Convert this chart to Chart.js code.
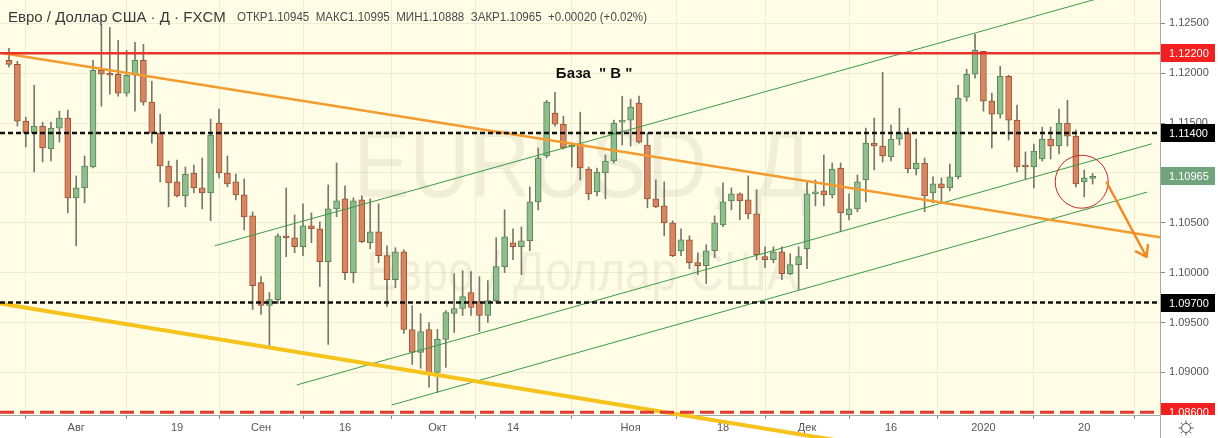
<!DOCTYPE html>
<html lang="ru">
<head>
<meta charset="UTF-8">
<title>EURUSD, Д</title>
<script src="https://cdn.jsdelivr.net/npm/chart.js@4.4.1/dist/chart.umd.min.js"></script>
<style>
  html, body { margin: 0; padding: 0; background: #fff; }
  .wrap { width: 1218px; height: 438px; }
</style>
</head>
<body>
<div class="wrap"><canvas id="chart" width="1218" height="438"></canvas></div>
<script>
// daily candles 22.07.2019 - 21.01.2020 (index = trading day)
const open = [1.1213,1.1209,1.1152,1.1140,1.1147,1.1124,1.1145,1.1155,1.1075,1.1085,
  1.1106,1.1203,1.1199,1.1199,1.1180,1.1198,1.1213,1.1171,1.1140,1.1107,
  1.1091,1.1077,1.1100,1.1085,1.1080,1.1150,1.1100,1.1091,1.1078,1.1057,
  1.0990,1.0967,1.0973,1.1036,1.1035,1.1026,1.1047,1.1044,1.1011,1.1064,
  1.1074,1.1000,1.1073,1.1030,1.1041,1.1017,1.0993,1.1021,1.0943,1.0920,
  1.0943,1.0900,1.0933,1.0959,1.0964,1.0980,1.0971,1.0957,1.0972,1.1006,
  1.1030,1.1026,1.1032,1.1071,1.1117,1.1160,1.1149,1.1126,1.1129,1.1104,
  1.1081,1.1100,1.1112,1.1151,1.1153,1.1170,1.1128,1.1074,1.1067,1.1050,
  1.1022,1.1033,1.1010,1.1007,1.1022,1.1048,1.1072,1.1079,1.1073,1.1059,
  1.1016,1.1013,1.1021,1.0999,1.1008,1.1024,1.1079,1.1082,1.1078,1.1105,
  1.1058,1.1064,1.1093,1.1130,1.1127,1.1116,1.1134,1.1140,1.1104,1.1110,
  1.1080,1.1089,1.1085,1.1096,1.1176,1.1199,1.1222,1.1172,1.1159,1.1197,
  1.1153,1.1107,1.1106,1.1114,1.1134,1.1127,1.1150,1.1137,1.1091,1.10945];
const high = [1.1225,1.1212,1.1156,1.1188,1.1151,1.1151,1.1162,1.1163,1.1097,1.1117,
  1.1213,1.1249,1.1246,1.1233,1.1223,1.1231,1.1229,1.1192,1.1159,1.1112,
  1.1113,1.1106,1.1108,1.1115,1.1154,1.1164,1.1117,1.1099,1.1094,1.1061,
  1.0996,1.0980,1.1039,1.1085,1.1058,1.1069,1.1060,1.1051,1.1088,1.1110,
  1.1087,1.1075,1.1077,1.1074,1.1069,1.1027,1.1025,1.1023,1.0967,1.0959,
  1.0950,1.0943,1.0962,1.0999,1.1002,1.1001,1.0996,1.0992,1.1035,1.1063,
  1.1044,1.1046,1.1086,1.1125,1.1173,1.1181,1.1157,1.1130,1.1161,1.1106,
  1.1105,1.1118,1.1153,1.1177,1.1174,1.1177,1.1140,1.1093,1.1091,1.1052,
  1.1044,1.1037,1.1020,1.1028,1.1057,1.1090,1.1085,1.1080,1.1097,1.1083,
  1.1026,1.1026,1.1026,1.1019,1.1026,1.1091,1.1093,1.1118,1.1110,1.1110,
  1.1079,1.1098,1.1145,1.1155,1.1201,1.1148,1.1165,1.1145,1.1134,1.1115,
  1.1096,1.1095,1.1109,1.1188,1.1204,1.1239,1.1222,1.1180,1.1207,1.1198,
  1.1168,1.1121,1.1129,1.1146,1.1146,1.1164,1.1173,1.1143,1.1103,1.10995];
const low = [1.1206,1.1147,1.1126,1.1101,1.1111,1.1112,1.1131,1.1060,1.1027,1.1070,
  1.1105,1.1167,1.1179,1.1177,1.1177,1.1162,1.1168,1.1130,1.1091,1.1066,
  1.1076,1.1066,1.1080,1.1064,1.1052,1.1095,1.1086,1.1073,1.1043,1.0963,
  1.0958,1.0927,1.0969,1.1016,1.1020,1.1017,1.1030,1.0986,1.0928,1.1056,
  1.0993,1.0990,1.1030,1.1024,1.1010,1.0966,1.0985,1.0939,1.0908,1.0904,
  1.0885,1.0880,1.0905,1.0940,1.0957,1.0957,1.0941,1.0950,1.0970,1.1000,
  1.1013,1.0998,1.1022,1.1063,1.1115,1.1147,1.1124,1.1106,1.1093,1.1073,
  1.1077,1.1074,1.1110,1.1128,1.1127,1.1130,1.1065,1.1065,1.1037,1.1016,
  1.1017,1.1004,1.0998,1.0989,1.1015,1.1046,1.1063,1.1053,1.1054,1.1013,
  1.1005,1.1010,1.0993,1.0998,1.0983,1.1004,1.1067,1.1067,1.1075,1.1041,
  1.1053,1.1061,1.1071,1.1103,1.1111,1.1112,1.1128,1.1100,1.1098,1.1061,
  1.1070,1.1070,1.1082,1.1094,1.1172,1.1195,1.1162,1.1125,1.1155,1.1133,
  1.1101,1.1094,1.1085,1.1112,1.1114,1.1119,1.1127,1.1086,1.1076,1.10888];
const close = [1.1209,1.1152,1.1140,1.1147,1.1125,1.1145,1.1155,1.1075,1.1085,1.1107,
  1.1203,1.1199,1.1198,1.1180,1.1198,1.1213,1.1171,1.1140,1.1107,1.1090,
  1.1077,1.1099,1.1085,1.1080,1.1138,1.1100,1.1089,1.1078,1.1056,1.0987,
  1.0967,1.0973,1.1037,1.1035,1.1026,1.1047,1.1044,1.1011,1.1064,1.1072,
  1.1000,1.1072,1.1031,1.1041,1.1017,1.0993,1.1021,1.0943,1.0920,1.0941,
  1.0898,1.0933,1.0960,1.0964,1.0976,1.0965,1.0957,1.0972,1.1006,1.1036,
  1.1026,1.1032,1.1071,1.1115,1.1171,1.1149,1.1125,1.1128,1.1105,1.1079,
  1.1101,1.1112,1.1150,1.1153,1.1166,1.1131,1.1074,1.1066,1.1050,1.1017,
  1.1033,1.1010,1.1007,1.1022,1.1050,1.1071,1.1079,1.1072,1.1059,1.1018,
  1.1013,1.1021,1.0999,1.1008,1.1016,1.1079,1.1081,1.1078,1.1104,1.1060,
  1.1064,1.1091,1.1130,1.1127,1.1117,1.1134,1.1140,1.1104,1.1110,1.1077,
  1.1089,1.1085,1.1096,1.1175,1.1199,1.1223,1.1172,1.1159,1.1197,1.1153,
  1.1106,1.1106,1.1122,1.1134,1.1127,1.1150,1.1137,1.1089,1.1095,1.10965];

const tickIdx = [8, 20, 30, 40, 51, 60, 74, 85, 95, 105, 116, 128];
const tickText = ['Авг', '19', 'Сен', '16', 'Окт', '14', 'Ноя', '18', 'Дек', '16', '2020', '20'];
const priceTicks = [1.090, 1.095, 1.100, 1.105, 1.110, 1.115, 1.120, 1.125];

const redLevels = [1.1220, 1.0860];
const blackLevels = [1.1140, 1.0970];
const lastPrice = 1.10965;

// drawn lines: [index1, price1, index2, price2]
const orangeLine = [-0.68, 1.1220, 137.02, 1.10356];
const goldLine = [-1.07, 1.0969, 105, 1.08229];
const greenUpper = [24.52, 1.1027, 137, 1.12923];
const greenMid = [34.25, 1.08873, 136.04, 1.11292];
const greenLow = [45.56, 1.08672, 135.48, 1.10808];
const circleMark = [127.7, 1.10912];
const arrowMark = [130.68, 1.10904, 135.42, 1.10157];
const baseLabel = [65.1, 1.11992];

const X_MIN = -1.071, X_MAX = 137.02;
const Y_MIN = 1.08572, Y_MAX = 1.12735;

const upFill = '#8fbd8b', upLine = '#55835a';
const dnFill = '#d98560', dnLine = '#955437';

const idx = open.map((_, i) => i);
const seg = (s) => [{x: s[0], y: s[1]}, {x: s[2], y: s[3]}];
const flat = (p) => [{x: X_MIN, y: p}, {x: X_MAX, y: p}];
const lineDs = (data, color, width, extra) => Object.assign({
  type: 'line', data, borderColor: color, borderWidth: width,
  pointRadius: 0, tension: 0, order: 1
}, extra || {});

const decor = {
  id: 'decor',
  beforeDraw(chart) {
    const {ctx, chartArea: a} = chart;
    ctx.save();
    ctx.fillStyle = '#ffffff';
    ctx.fillRect(0, 0, chart.width, chart.height);
    ctx.fillStyle = '#fffde6';
    ctx.fillRect(a.left, a.top, a.right - a.left, a.bottom - a.top);
    ctx.restore();
  },
  beforeDatasetsDraw(chart) {
    const {ctx} = chart;
    ctx.save();
    ctx.fillStyle = 'rgba(80, 80, 50, 0.085)';
    ctx.textAlign = 'center';
    ctx.textBaseline = 'alphabetic';
    ctx.font = '96px "Liberation Sans", sans-serif';
    ctx.fillText('EURUSD, Д', 582, 197, 457);
    ctx.font = '56px "Liberation Sans", sans-serif';
    ctx.fillText('Евро / Доллар США', 582, 290, 432);
    ctx.restore();
  },
  afterDatasetsDraw(chart) {
    const {ctx, scales: {x, y}} = chart;
    ctx.save();
    // circle
    ctx.strokeStyle = '#c0282b';
    ctx.lineWidth = 1;
    ctx.beginPath();
    ctx.arc(x.getPixelForValue(circleMark[0]), y.getPixelForValue(circleMark[1]), 26.5, 0, Math.PI * 2);
    ctx.stroke();
    // arrow
    const x1 = x.getPixelForValue(arrowMark[0]), y1 = y.getPixelForValue(arrowMark[1]);
    const x2 = x.getPixelForValue(arrowMark[2]), y2 = y.getPixelForValue(arrowMark[3]);
    const ang = Math.atan2(y2 - y1, x2 - x1);
    ctx.strokeStyle = '#f28a24';
    ctx.lineWidth = 2.5;
    ctx.lineCap = 'round';
    ctx.beginPath();
    ctx.moveTo(x1, y1);
    ctx.lineTo(x2, y2);
    for (const d of [-0.6, 0.6]) {
      ctx.moveTo(x2, y2);
      ctx.lineTo(x2 - 12 * Math.cos(ang + d), y2 - 12 * Math.sin(ang + d));
    }
    ctx.stroke();
    ctx.restore();
  },
  afterDraw(chart) {
    const {ctx, chartArea: a, scales: {x, y}} = chart;
    ctx.save();
    // title
    ctx.textBaseline = 'middle';
    ctx.textAlign = 'left';
    ctx.fillStyle = '#3a3a3a';
    ctx.font = '15px "Liberation Sans", sans-serif';
    ctx.fillText('Евро / Доллар США · Д · FXCM', 8, 18, 220);
    ctx.fillStyle = '#4a4a4a';
    ctx.font = '12px "Liberation Sans", sans-serif';
    ctx.fillText('ОТКР1.10945  МАКС1.10995  МИН1.10888  ЗАКР1.10965  +0.00020 (+0.02%)', 237, 18, 410);
    // note
    ctx.fillStyle = '#111';
    ctx.font = 'bold 15px "Liberation Sans", sans-serif';
    ctx.fillText('База  " В "', x.getPixelForValue(baseLabel[0]), y.getPixelForValue(baseLabel[1]));

    // price labels on the axis
    ctx.beginPath();
    ctx.rect(a.right, 0, chart.width - a.right, a.bottom);
    ctx.clip();
    const tags = [
      [redLevels[0], '#f41f1f'], [blackLevels[0], '#000'], [lastPrice, '#6fa47c'],
      [blackLevels[1], '#000'], [redLevels[1], '#f41f1f']
    ];
    ctx.font = '11px "Liberation Sans", sans-serif';
    for (const [p, c] of tags) {
      const py = Math.round(y.getPixelForValue(p));
      ctx.fillStyle = c;
      ctx.fillRect(a.right + 1, py - 9, 54, 18);
      ctx.fillStyle = '#fff';
      ctx.fillText(p.toFixed(5), a.right + 9, py + 1);
    }
    ctx.restore();

    ctx.save();
    // axis line down to the corner
    ctx.strokeStyle = '#a8a8a8';
    ctx.lineWidth = 1;
    ctx.beginPath();
    ctx.moveTo(a.right + 0.5, a.bottom);
    ctx.lineTo(a.right + 0.5, chart.height);
    ctx.stroke();
    // settings icon
    const gx = 1186, gy = 428;
    ctx.strokeStyle = '#555';
    ctx.beginPath();
    ctx.arc(gx, gy, 4.5, 0, Math.PI * 2);
    for (let k = 0; k < 8; k++) {
      const t = k * Math.PI / 4;
      ctx.moveTo(gx + 5 * Math.cos(t), gy + 5 * Math.sin(t));
      ctx.lineTo(gx + 7.5 * Math.cos(t), gy + 7.5 * Math.sin(t));
    }
    ctx.stroke();
    ctx.restore();
  }
};

new Chart(document.getElementById('chart'), {
  type: 'bar',
  data: {
    datasets: [
      lineDs(flat(redLevels[0]), '#e8322b', 2.5),
      lineDs(flat(redLevels[1]), '#e23b34', 3, {borderDash: [14, 6]}),
      lineDs(flat(blackLevels[0]), '#111', 2.5, {borderDash: [5, 3]}),
      lineDs(flat(blackLevels[1]), '#111', 2.5, {borderDash: [5, 3]}),
      lineDs(seg(orangeLine), '#f39b2f', 2.5),
      lineDs(seg(goldLine), '#f6c21c', 4, {clip: false}),
      lineDs(seg(greenUpper), '#3c9a48', 1),
      lineDs(seg(greenMid), '#3c9a48', 1),
      lineDs(seg(greenLow), '#3c9a48', 1),
      {
        data: idx.map(i => ({x: i, y: [open[i], close[i]]})),
        backgroundColor: idx.map(i => close[i] >= open[i] ? upFill : dnFill),
        borderColor: idx.map(i => close[i] >= open[i] ? upLine : dnLine),
        borderWidth: 1,
        borderSkipped: false,
        barThickness: 6,
        minBarLength: 2,
        grouped: false,
        order: 4
      },
      {
        data: idx.map(i => ({x: i, y: [low[i], high[i]]})),
        backgroundColor: '#77786a',
        borderWidth: 0,
        barThickness: 1,
        grouped: false,
        order: 5
      }
    ]
  },
  options: {
    responsive: false,
    devicePixelRatio: 1,
    animation: false,
    layout: {padding: 0},
    plugins: {legend: {display: false}, tooltip: {enabled: false}},
    scales: {
      x: {
        type: 'linear',
        min: X_MIN,
        max: X_MAX,
        offset: false,
        afterBuildTicks: s => { s.ticks = tickIdx.map(v => ({value: v})); },
        afterFit: s => { s.height = 23; s.paddingLeft = 0; s.paddingRight = 0; },
        ticks: {
          autoSkip: false,
          maxRotation: 0,
          padding: 2,
          color: '#555',
          font: {family: 'Liberation Sans', size: 11},
          callback: v => tickText[tickIdx.indexOf(v)] || ''
        },
        grid: {color: '#eeecd2', tickLength: 4, tickColor: '#888'},
        border: {color: '#a8a8a8'}
      },
      y: {
        position: 'right',
        min: Y_MIN,
        max: Y_MAX,
        afterBuildTicks: s => { s.ticks = priceTicks.map(v => ({value: v})); },
        afterFit: s => { s.width = 58; s.paddingTop = 0; s.paddingBottom = 0; },
        ticks: {
          padding: 4,
          color: '#555',
          font: {family: 'Liberation Sans', size: 11},
          callback: v => v.toFixed(5)
        },
        grid: {color: '#eeecd2', tickLength: 5, tickColor: '#888'},
        border: {color: '#a8a8a8'}
      }
    }
  },
  plugins: [decor]
});
</script>
</body>
</html>
